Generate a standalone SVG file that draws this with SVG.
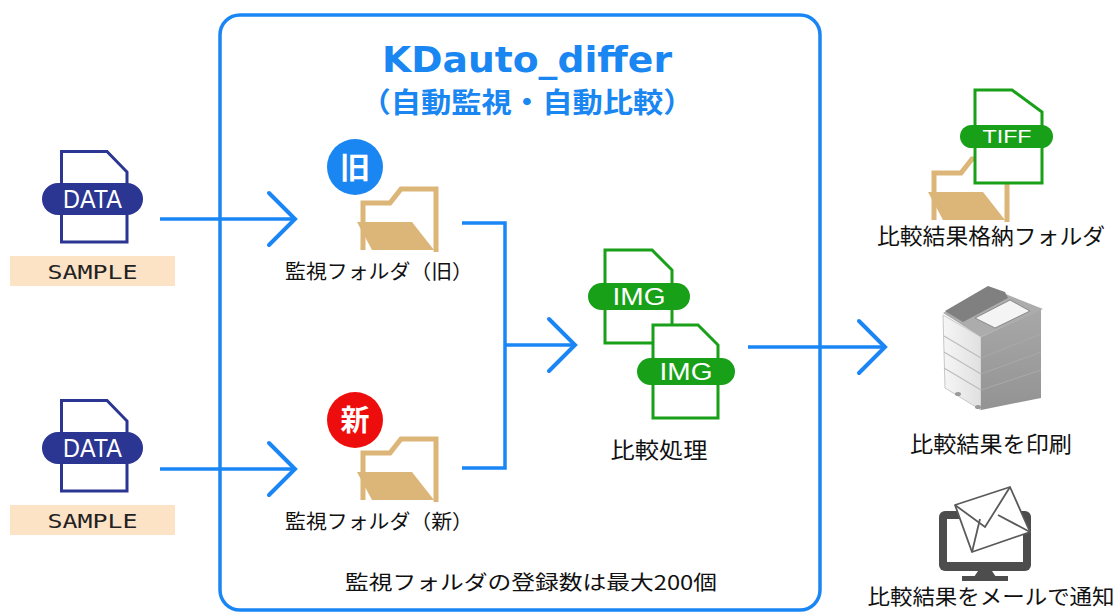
<svg xmlns="http://www.w3.org/2000/svg" xmlns:xlink="http://www.w3.org/1999/xlink" width="1119" height="612" viewBox="0 0 1119 612">
  <style>
    .flow { fill: none; stroke: #1a86f5; stroke-width: 3.5; stroke-linejoin: miter; }
    .chev { fill: none; stroke: #1a86f5; stroke-width: 4; stroke-linecap: round; stroke-linejoin: miter; }
    .lbl { font-family: "Noto Sans CJK JP", "Noto Sans", sans-serif; fill: #111; text-anchor: middle; }
    .tag { font-family: "Liberation Sans", Arial, sans-serif; fill: #fff; text-anchor: middle; }
    .navy { fill: #fff; stroke: #2b3592; stroke-width: 3; }
    .green { fill: #fff; stroke: #18a018; stroke-width: 3; }
    .folder-back { fill: none; stroke: #dcb679; stroke-width: 5; }
    .folder-flap { fill: #dcb679; }
  </style>
  <defs>
    <g id="folderIcon">
      <path class="folder-back" d="M6,64 V17 H33 L44,3 H79 V66"/>
      <polygon class="folder-flap" points="0,36 55,36 77,64 15,64"/>
    </g>
    <g id="dataDoc">
      <path class="navy" d="M1.5,1.5 H47 L67,22 V92 H1.5 Z"/>
      <rect x="-18" y="33" width="101" height="32" rx="16" fill="#2b3592"/>
      <text class="tag" x="32.5" y="58" font-size="25" textLength="59" lengthAdjust="spacingAndGlyphs">DATA</text>
      <rect x="-50" y="106" width="165" height="30" fill="#fde3c6"/>
      <text x="32.5" y="129" font-family="DejaVu Sans Mono, Liberation Mono, monospace" font-size="19" fill="#222" text-anchor="middle" textLength="90" lengthAdjust="spacingAndGlyphs">SAMPLE</text>
    </g>
    <linearGradient id="sideLight" x1="0" y1="0" x2="1" y2="0">
      <stop offset="0" stop-color="#f6f6f6"/>
      <stop offset="1" stop-color="#e0e0e0"/>
    </linearGradient>
    <linearGradient id="sideDark" x1="0" y1="0" x2="0" y2="1">
      <stop offset="0" stop-color="#a8a8a8"/>
      <stop offset="1" stop-color="#939393"/>
    </linearGradient>
  </defs>

  <rect width="1119" height="612" fill="#fff"/>

  <!-- application frame -->
  <g id="app-frame">
    <rect x="220" y="15" width="600" height="595" rx="20" fill="none" stroke="#1a86f5" stroke-width="3.5"/>
    <text x="527" y="72" font-family="DejaVu Sans, Verdana, sans-serif" font-weight="bold" font-size="35" fill="#1a86f2" text-anchor="middle" textLength="290" lengthAdjust="spacingAndGlyphs">KDauto_differ</text>
    <text x="527" y="113" font-family="Noto Sans CJK JP, sans-serif" font-weight="bold" font-size="28" fill="#1a86f2" text-anchor="middle" textLength="333" lengthAdjust="spacingAndGlyphs">（自動監視・自動比較）</text>
    <text class="lbl" x="531" y="590" font-size="20" textLength="372" lengthAdjust="spacingAndGlyphs">監視フォルダの登録数は最大200個</text>
  </g>

  <!-- input data -->
  <g id="data-old">
    <use xlink:href="#dataDoc" transform="translate(60,150)"/>
  </g>
  <g id="data-new">
    <use xlink:href="#dataDoc" transform="translate(60,399)"/>
  </g>

  <!-- watched folders -->
  <g id="folder-old">
    <use xlink:href="#folderIcon" transform="translate(357,186)"/>
    <circle cx="355" cy="167" r="28" fill="#1a86f2"/>
    <text x="355" y="178" font-family="Noto Sans CJK JP, sans-serif" font-weight="bold" font-size="30" fill="#fff" text-anchor="middle">旧</text>
    <text class="lbl" x="379" y="279" font-size="20" textLength="188" lengthAdjust="spacingAndGlyphs">監視フォルダ（旧）</text>
  </g>
  <g id="folder-new">
    <use xlink:href="#folderIcon" transform="translate(357,436)"/>
    <circle cx="355" cy="420" r="28" fill="#ee0d0d"/>
    <text x="355" y="431" font-family="Noto Sans CJK JP, sans-serif" font-weight="bold" font-size="29" fill="#fff" text-anchor="middle">新</text>
    <text class="lbl" x="379" y="529" font-size="20" textLength="188" lengthAdjust="spacingAndGlyphs">監視フォルダ（新）</text>
  </g>

  <!-- comparison -->
  <g id="compare">
    <path class="green" d="M605,250 H652 L672,270 V343 H605 Z"/>
    <rect x="588" y="283" width="102" height="27" rx="13.5" fill="#18a018"/>
    <text class="tag" x="639" y="305" font-size="23" textLength="53" lengthAdjust="spacingAndGlyphs">IMG</text>
    <path class="green" d="M653,325 H698 L718,345 V418 H653 Z"/>
    <rect x="637" y="358" width="98" height="27" rx="13.5" fill="#18a018"/>
    <text class="tag" x="686" y="380" font-size="23" textLength="53" lengthAdjust="spacingAndGlyphs">IMG</text>
    <text class="lbl" x="659" y="458" font-size="22" textLength="97" lengthAdjust="spacingAndGlyphs">比較処理</text>
  </g>

  <!-- outputs -->
  <g id="out-folder">
    <use xlink:href="#folderIcon" transform="translate(928,156)"/>
    <path class="green" d="M975,90 H1012 L1042,112 V183 H975 Z"/>
    <rect x="960" y="125" width="93" height="23" rx="11.5" fill="#18a018"/>
    <text class="tag" x="1007" y="143" font-size="19" textLength="49" lengthAdjust="spacingAndGlyphs">TIFF</text>
    <text class="lbl" x="991" y="244" font-size="22" textLength="228" lengthAdjust="spacingAndGlyphs">比較結果格納フォルダ</text>
  </g>

  <g id="out-print">
    <polygon points="943,315 981,337 981,410 945,388" fill="url(#sideLight)" stroke="#c8c8c8" stroke-width="1"/>
    <polygon points="981,337 1041,309 1041,398 981,410" fill="url(#sideDark)"/>
    <g stroke="#bdbdbd" stroke-width="1.2">
      <line x1="944" y1="336" x2="981" y2="358"/>
      <line x1="944" y1="352" x2="981" y2="374"/>
      <line x1="944" y1="368" x2="981" y2="390"/>
    </g>
    <g stroke="#a9a9a9" stroke-width="1">
      <line x1="981" y1="358" x2="1041" y2="334"/>
      <line x1="981" y1="374" x2="1041" y2="352"/>
      <line x1="981" y1="390" x2="1041" y2="370"/>
    </g>
    <polygon points="943,313 988,287 1043,309 981,337" fill="#acacac"/>
    <polygon points="945,311 988,286 1005,292 1008,298 963,322" fill="#808080"/>
    <polygon points="975,318 1010,300 1030,311 995,328" fill="#f4f4f4" stroke="#8a8a8a" stroke-width="1"/>
    <ellipse cx="958" cy="394" rx="3" ry="2" fill="#999"/>
    <ellipse cx="978" cy="407" rx="3" ry="2" fill="#999"/>
    <text class="lbl" x="991" y="452" font-size="22" textLength="162" lengthAdjust="spacingAndGlyphs">比較結果を印刷</text>
  </g>

  <g id="out-mail">
    <rect x="939" y="511" width="92" height="60" rx="6" fill="#4d4d4d"/>
    <rect x="947" y="519" width="76" height="43" fill="#fff"/>
    <polygon points="978,571 992,571 996,577 974,577" fill="#4d4d4d"/>
    <rect x="962" y="576" width="46" height="5" fill="#4d4d4d"/>
    <polygon points="955,505 1010,487 1030,532 972,552" fill="#fff" stroke="#5a5a5a" stroke-width="1.8" stroke-linejoin="round"/>
    <polyline points="955,505 985,527 1010,487" fill="none" stroke="#5a5a5a" stroke-width="1.8"/>
    <line x1="972" y1="552" x2="980" y2="519" stroke="#5a5a5a" stroke-width="1.8"/>
    <line x1="1030" y1="532" x2="998" y2="515" stroke="#5a5a5a" stroke-width="1.8"/>
    <text class="lbl" x="991" y="604" font-size="21" textLength="247" lengthAdjust="spacingAndGlyphs">比較結果をメールで通知</text>
  </g>

  <!-- connectors -->
  <g id="connectors">
    <line class="flow" x1="160" y1="219" x2="295" y2="219"/>
    <polyline class="chev" points="269,193 295,219 269,245"/>
    <line class="flow" x1="160" y1="469" x2="295" y2="469"/>
    <polyline class="chev" points="269,443 295,469 269,495"/>
    <polyline class="flow" points="462,223 505,223 505,468 462,468"/>
    <line class="flow" x1="505" y1="345" x2="574" y2="345"/>
    <polyline class="chev" points="549,319 575,345 549,371"/>
    <line class="flow" x1="748" y1="347" x2="885" y2="347"/>
    <polyline class="chev" points="859,321 885,347 859,373"/>
  </g>
</svg>
